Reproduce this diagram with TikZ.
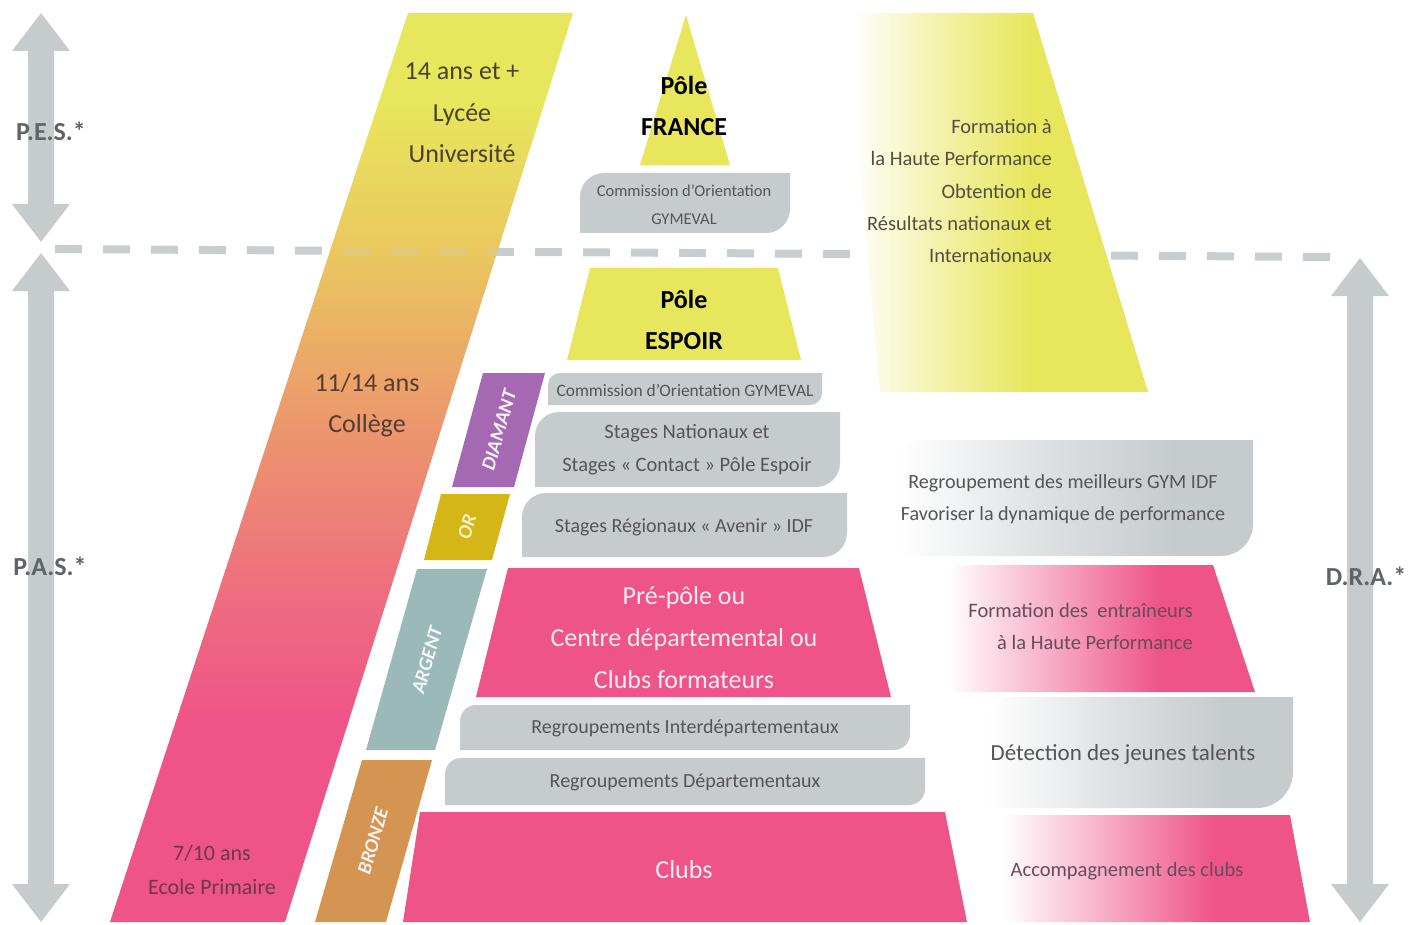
\documentclass[tikz,border=0pt]{standalone}
\usepackage{fontspec}
\setmainfont{Carlito}
\definecolor{yel}{RGB}{231,230,92}
\definecolor{bpink}{RGB}{239,84,136}
\definecolor{bmid}{RGB}{238,108,128}
\definecolor{borange}{RGB}{236,152,108}
\definecolor{byo}{RGB}{234,200,95}
\definecolor{grayb}{RGB}{198,203,206}
\definecolor{arrowgray}{RGB}{198,203,206}
\definecolor{dashgray}{RGB}{200,205,208}
\definecolor{diam}{RGB}{165,105,180}
\definecolor{orc}{RGB}{212,182,22}
\definecolor{argc}{RGB}{155,185,185}
\definecolor{bronc}{RGB}{212,148,82}
\definecolor{txtgray}{RGB}{85,85,85}
\definecolor{sidegray}{RGB}{95,100,105}
\definecolor{bandtxtA}{RGB}{75,65,45}
\definecolor{bandtxtB}{RGB}{85,60,50}
\definecolor{bandtxtC}{RGB}{110,55,75}
\definecolor{pinktxt}{RGB}{105,75,90}
\definecolor{lightpink}{RGB}{255,236,243}
\pgfdeclareverticalshading{bandsh}{100bp}{color(0bp)=(bpink); color(36bp)=(bpink); color(42.7bp)=(bmid); color(52.6bp)=(borange); color(62bp)=(byo); color(70bp)=(yel); color(100bp)=(yel)}
\pgfdeclarehorizontalshading{yfade}{100bp}{color(0bp)=(white); color(26bp)=(white); color(40bp)=(yel!50!white); color(56bp)=(yel); color(100bp)=(yel)}
\pgfdeclarehorizontalshading{gfade}{100bp}{color(0bp)=(white); color(26bp)=(white); color(45bp)=(grayb!55!white); color(64bp)=(grayb); color(100bp)=(grayb)}
\pgfdeclarehorizontalshading{pfade}{100bp}{color(0bp)=(white); color(27bp)=(white); color(42bp)=(bpink!45!white); color(60bp)=(bpink); color(100bp)=(bpink)}
\newcommand\rdbox[6]{\path[#6] (#1,#4) -- (#1,#2+#5) .. controls (#1,#2+0.45*#5) and (#1+0.45*#5,#2) .. (#1+#5,#2) -- (#3,#2) -- (#3,#4-#5) .. controls (#3,#4-0.45*#5) and (#3-0.45*#5,#4) .. (#3-#5,#4) -- cycle;}
\newcommand\dbarrow[3]{\fill[arrowgray] (#1,#2) -- (#1+29,#2+38) -- (#1+13,#2+38) -- (#1+13,#3-38) -- (#1+29,#3-38) -- (#1,#3) -- (#1-29,#3-38) -- (#1-13,#3-38) -- (#1-13,#2+38) -- (#1-29,#2+38) -- cycle;}
\tikzset{
  lbl/.style={inner sep=0pt, align=center, text=txtgray},
  tagtxt/.style={inner sep=0pt, rotate=74, text=white, font=\bfseries\itshape\fontsize{20}{20}\selectfont},
  sidelbl/.style={lbl, text=sidegray, font=\bfseries\fontsize{26}{26}\selectfont},
  dashline/.style={dashgray, line width=8pt, dash pattern=on 27pt off 21pt},
}
\begin{document}
\begin{tikzpicture}[x=1pt,y=-1pt]
\useasboundingbox (0,0) rectangle (1418,925);
% arrows
\dbarrow{41}{13}{242}
\dbarrow{41}{253}{922}
\dbarrow{1360}{258}{922}
% dashed separator
\draw[dashline] (55,249) -- (1335,257);
% age band
\shade[shading=bandsh] (408,13) -- (573,13) -- (285,922) -- (110,922) -- cycle;
\begin{scope}
  \clip (408,13) -- (573,13) -- (285,922) -- (110,922) -- cycle;
  \draw[dashline, opacity=0.22] (55,249) -- (1335,257);
\end{scope}
% right side fading shapes
\shade[shading=yfade] (845,13) -- (1033,13) -- (1148,392) -- (880,392) -- cycle;
\rdbox{890}{440}{1253}{556}{32}{shade, shading=gfade}
\shade[shading=pfade] (935,565) -- (1213,565) -- (1255,692) -- (935,692) -- cycle;
\rdbox{980}{697}{1293}{808}{36}{shade, shading=gfade}
\shade[shading=pfade] (990,815) -- (1290,815) -- (1310,922) -- (990,922) -- cycle;
% pyramid
\fill[yel] (686,15) -- (730,165) -- (640,165) -- cycle;
\rdbox{580}{173}{790}{233}{24}{fill=grayb}
\fill[yel] (590,268) -- (778,268) -- (801,360) -- (567,360) -- cycle;
\rdbox{548}{373}{822}{405}{12}{fill=grayb}
\rdbox{535}{412}{840}{487}{24}{fill=grayb}
\rdbox{522}{493}{847}{557}{24}{fill=grayb}
\fill[bpink] (508,568) -- (859,568) -- (891,697) -- (476,697) -- cycle;
\rdbox{460}{705}{910}{750}{16}{fill=grayb}
\rdbox{445}{758}{925}{805}{16}{fill=grayb}
\fill[bpink] (420,812) -- (945,812) -- (967,922) -- (403,922) -- cycle;
% level tags
\fill[diam] (483,373) -- (545,373) -- (514,487) -- (452,487) -- cycle;
\fill[orc] (441,494) -- (510,494) -- (492,560) -- (424,560) -- cycle;
\fill[argc] (417,569) -- (487,569) -- (435,750) -- (366,750) -- cycle;
\fill[bronc] (362,760) -- (432,760) -- (386,922) -- (315,922) -- cycle;
% side labels
\node[sidelbl] (pes) at (51,131) {P.E.S.*};
\node[sidelbl] (pas) at (50,566) {P.A.S.*};
\node[sidelbl] (dra) at (1366,576) {D.R.A.*};
% band labels
\node[lbl, text=bandtxtA, font=\fontsize{26}{41.5}\selectfont] (lycee) at (462,113) {14 ans et +\\Lycée\\Université};
\node[lbl, text=bandtxtB, font=\fontsize{26}{41}\selectfont] (college) at (367,405) {11/14 ans\\Collège};
\node[lbl, text=bandtxtC, font=\fontsize{22}{34}\selectfont] (primaire) at (212,870) {7/10 ans\\Ecole Primaire};
% pyramid labels
\node[lbl, text=black, font=\bfseries\fontsize{26}{41}\selectfont] (france) at (684,106) {Pôle\\FRANCE};
\node[lbl, font=\fontsize{16.5}{28}\selectfont] (cotop) at (684,205) {Commission d’Orientation\\GYMEVAL};
\node[lbl, text=black, font=\bfseries\fontsize{26}{41}\selectfont] (espoir) at (684,320) {Pôle\\ESPOIR};
\node[lbl, font=\fontsize{17.4}{20}\selectfont] (comid) at (685,390) {Commission d’Orientation GYMEVAL};
\node[lbl, font=\fontsize{20.5}{33}\selectfont] (stnat) at (687,450) {Stages Nationaux et\\Stages «~Contact~» Pôle Espoir};
\node[lbl, font=\fontsize{20}{24}\selectfont] (streg) at (684,527) {Stages Régionaux «~Avenir~» IDF};
\node[lbl, text=lightpink, font=\fontsize{26}{42}\selectfont] (prepole) at (684,638) {Pré-pôle ou\\Centre départemental ou\\Clubs formateurs};
\node[lbl, font=\fontsize{20}{24}\selectfont] (rinter) at (685,728) {Regroupements Interdépartementaux};
\node[lbl, font=\fontsize{20}{24}\selectfont] (rdep) at (685,782) {Regroupements Départementaux};
\node[lbl, text=lightpink, font=\fontsize{26}{30}\selectfont] (clubs) at (684,870) {Clubs};
% tags
\node[tagtxt, text=white!90!diam] (tdiam) at (499,430) {DIAMANT};
\node[tagtxt, text=white!80!orc] (tor) at (467,527) {OR};
\node[tagtxt, text=white!90!argc] (targ) at (427,660) {ARGENT};
\node[tagtxt, text=white!90!bronc] (tbron) at (373,841) {BRONZE};
% right labels
\node[lbl, align=right, anchor=east, text=bandtxtA!80!gray, font=\fontsize{20.5}{32.2}\selectfont] (hperf) at (1052,191) {Formation à\\la Haute Performance\\Obtention de\\Résultats nationaux et\\Internationaux};
\node[lbl, font=\fontsize{20.1}{32}\selectfont] (regmeil) at (1063,499) {Regroupement des meilleurs GYM IDF\\Favoriser la dynamique de performance};
\node[lbl, align=right, anchor=east, text=pinktxt, font=\fontsize{20.5}{32}\selectfont] (formentr) at (1193,626) {Formation des~~entraîneurs\\à la Haute Performance};
\node[lbl, font=\fontsize{23}{26}\selectfont] (detect) at (1123,754) {Détection des jeunes talents};
\node[lbl, text=pinktxt, font=\fontsize{20.5}{24}\selectfont] (accomp) at (1127,871) {Accompagnement des clubs};
\end{tikzpicture}
\end{document}
